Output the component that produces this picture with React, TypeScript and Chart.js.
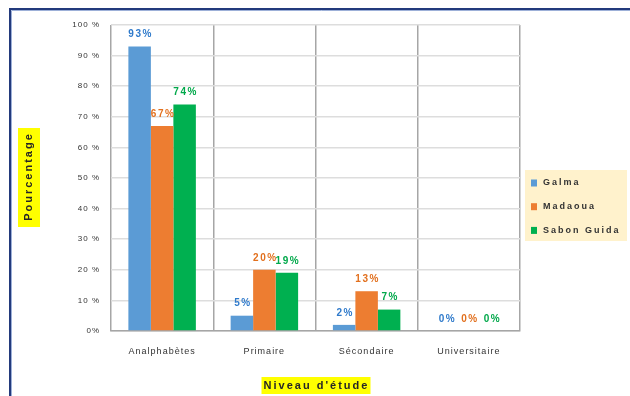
import React, { useEffect, useRef } from "react";
import { Chart, registerables } from "chart.js";

Chart.register(...registerables);

const categories = ["Analphabètes", "Primaire", "Sécondaire", "Universitaire"];
const seriesNames = ["Galma", "Madaoua", "Sabon Guida"];
const galma = [93, 5, 2, 0];
const madaoua = [67, 20, 13, 0];
const sabonGuida = [74, 19, 7, 0];
const barColors = ["#5B9BD5", "#ED7D31", "#00B050"];
const labelColors = ["#2F7ACB", "#E2701E", "#00A84A"];
const yTicks = [0, 10, 20, 30, 40, 50, 60, 70, 80, 90, 100];
const yTitle = "Pourcentage";
const xTitle = "Niveau d'étude";

const FONT = "'Liberation Sans', Arial, sans-serif";

const decorPlugin = {
  id: "decor",
  beforeDraw(chart: any) {
    const ctx = chart.ctx;
    ctx.save();
    ctx.strokeStyle = "#233A7C";
    ctx.lineWidth = 2;
    ctx.beginPath();
    ctx.moveTo(10, 396);
    ctx.lineTo(10, 9);
    ctx.lineTo(632, 9);
    ctx.stroke();
    ctx.strokeStyle = "#9DB0D8";
    ctx.lineWidth = 1;
    ctx.beginPath();
    ctx.moveTo(11.5, 396);
    ctx.lineTo(11.5, 10.5);
    ctx.lineTo(632, 10.5);
    ctx.stroke();
    ctx.restore();
    (ctx as any).letterSpacing = "1px";
  },
  afterDatasetsDraw(chart: any) {
    const ctx = chart.ctx;
    ctx.save();
    (ctx as any).letterSpacing = "1.5px";
    ctx.font = `bold 10px ${FONT}`;
    ctx.textAlign = "center";
    ctx.textBaseline = "middle";
    chart.data.datasets.forEach((ds: any, di: number) => {
      const meta = chart.getDatasetMeta(di);
      meta.data.forEach((el: any, i: number) => {
        ctx.fillStyle = labelColors[di];
        ctx.fillText(`${ds.data[i]}%`, el.x + 1, el.y - 12);
      });
    });
    ctx.restore();
  },
  afterDraw(chart: any) {
    const ctx = chart.ctx;
    const area = chart.chartArea;
    ctx.save();
    ctx.fillStyle = "#FFFF00";
    ctx.fillRect(18, 128, 22, 99);
    ctx.translate(29, 177.5);
    ctx.rotate(-Math.PI / 2);
    (ctx as any).letterSpacing = "2px";
    ctx.font = `bold 11px ${FONT}`;
    ctx.fillStyle = "#262626";
    ctx.textAlign = "center";
    ctx.textBaseline = "middle";
    ctx.fillText(yTitle, 1, 0);
    ctx.restore();

    ctx.save();
    const cx = (area.left + area.right) / 2;
    ctx.fillStyle = "#FFFF00";
    ctx.fillRect(cx - 54, 377, 109, 17);
    (ctx as any).letterSpacing = "2px";
    ctx.font = `bold 11px ${FONT}`;
    ctx.fillStyle = "#262626";
    ctx.textAlign = "center";
    ctx.textBaseline = "middle";
    ctx.fillText(xTitle, cx + 1, 386);
    ctx.restore();

    ctx.save();
    ctx.fillStyle = "#FFF2CC";
    ctx.fillRect(525, 170, 102, 71);
    (ctx as any).letterSpacing = "2px";
    ctx.font = `bold 9px ${FONT}`;
    ctx.textBaseline = "middle";
    ctx.textAlign = "left";
    chart.data.datasets.forEach((ds: any, di: number) => {
      const y = 183 + di * 23.7;
      ctx.fillStyle = barColors[di];
      ctx.fillRect(531, y - 3.5, 6, 7);
      ctx.fillStyle = "#333333";
      ctx.fillText(ds.label, 543, y);
    });
    ctx.restore();
  },
};

export default function App() {
  const ref = useRef<HTMLCanvasElement | null>(null);
  useEffect(() => {
    if (!ref.current) return;
    const series = [galma, madaoua, sabonGuida];
    const chart = new Chart(ref.current, {
      type: "bar",
      data: {
        labels: categories,
        datasets: series.map((d, i) => ({
          label: seriesNames[i],
          data: d,
          backgroundColor: barColors[i],
          borderWidth: 0,
          categoryPercentage: 0.66,
          barPercentage: 1,
        })),
      },
      options: {
        responsive: false,
        animation: false,
        devicePixelRatio: 1,
        layout: { padding: { left: 0, top: 25, right: 110, bottom: 0 } },
        plugins: { legend: { display: false }, tooltip: { enabled: false } },
        scales: {
          x: {
            offset: true,
            grid: { offset: true, color: "#A6A6A6", lineWidth: 1.5, drawTicks: false },
            border: { color: "#A6A6A6", width: 1.5 },
            ticks: { padding: 15, color: "#333333", font: { family: FONT, size: 9 } },
            afterFit: (s: any) => {
              s.height = 65;
            },
          },
          y: {
            min: 0,
            max: 100,
            afterBuildTicks: (s: any) => {
              s.ticks = yTicks.map((v) => ({ value: v }));
            },
            grid: { color: "#DDDDDD", lineWidth: 1.5, drawTicks: false },
            border: { display: false },
            ticks: {
              padding: 11,
              color: "#333333",
              font: { family: FONT, size: 8 },
              callback: (v: any) => (v === 0 ? "0%" : `${v} %`),
            },
            afterFit: (s: any) => {
              s.width = 111;
            },
          },
        },
      },
      plugins: [decorPlugin],
    });
    return () => chart.destroy();
  }, []);
  return (
    <div style={{ position: "absolute", left: 0, top: 0, width: 630, height: 396, background: "#fff" }}>
      <canvas ref={ref} width={630} height={396} style={{ display: "block" }} />
    </div>
  );
}
